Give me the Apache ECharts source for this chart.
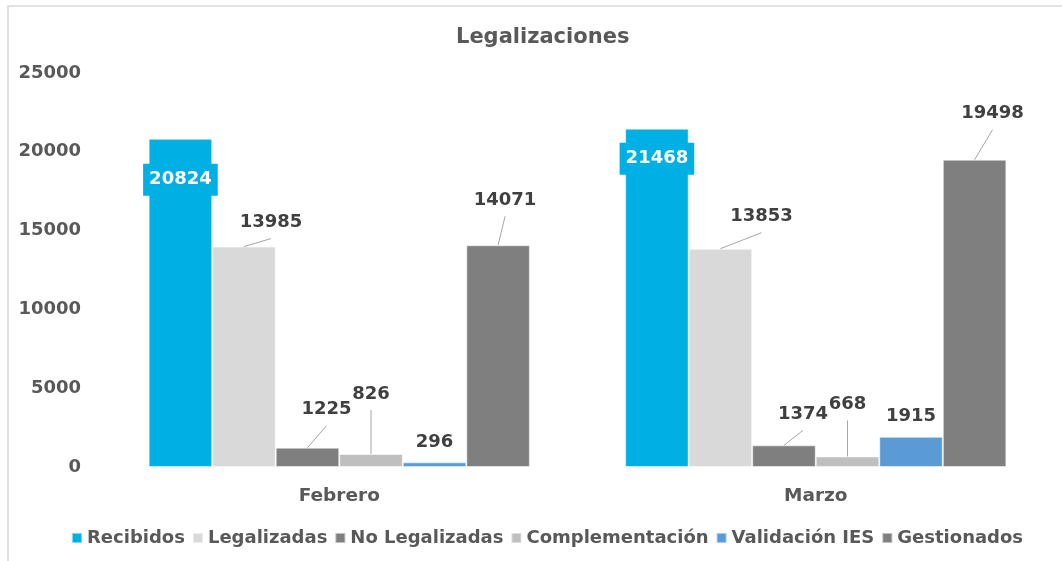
<!DOCTYPE html>
<html lang="es">
<head>
  <meta charset="UTF-8">
  <title>Legalizaciones</title>
  <style>
    html, body { margin: 0; padding: 0; background: #fff; }
    #chart { width: 1062px; height: 561px; }
  </style>
</head>
<body>
  <div id="chart"></div>
  <script src="https://cdn.jsdelivr.net/npm/echarts@6/dist/echarts.min.js"></script>
  <script>
    var categories = ['Febrero', 'Marzo'];
    var recibidos = [20824, 21468];
    var legalizadas = [13985, 13853];
    var noLegalizadas = [1225, 1374];
    var complementacion = [826, 668];
    var validacionIES = [296, 1915];
    var gestionados = [14071, 19498];
    var yTicks = [0, 5000, 10000, 15000, 20000, 25000];

    var font = 'DejaVu Sans';
    var textColor = '#595959';
    var barCount = 6;
    var catGap = 0.2;

    // label shifts (dx, dy) for each bar, from the default 'top' spot
    var shifts = {
      recibidos: [[0, 20], [0, 9]],
      legalizadas: [[27, -10], [41, -18]],
      noLegalizadas: [[19, -24], [19, -17]],
      complementacion: [[0, -46], [0, -38]],
      validacion: [[0, -6], [0, -6]],
      gestionados: [[7, -31], [18, -32]]
    };

    function layoutFor(key) {
      return function (params) {
        var s = shifts[key][params.dataIndex];
        return { dx: s[0], dy: s[1] };
      };
    }

    function barSeries(name, data, color, key) {
      return {
        name: name,
        type: 'bar',
        data: data,
        barGap: '0%',
        barCategoryGap: (catGap * 100) + '%',
        itemStyle: { color: color, borderColor: 'rgba(255,255,255,0.5)', borderWidth: 1 },
        label: {
          show: true,
          position: 'top',
          distance: 5,
          fontFamily: font,
          fontWeight: 'bold',
          fontSize: 18,
          color: '#404040'
        },
        labelLayout: layoutFor(key),
        emphasis: { disabled: true }
      };
    }

    var series = [
      {
        name: 'Recibidos',
        type: 'bar',
        data: recibidos,
        barGap: '0%',
        barCategoryGap: (catGap * 100) + '%',
        itemStyle: { color: '#00B0E4', borderColor: 'rgba(255,255,255,0.5)', borderWidth: 1 },
        label: {
          show: true,
          position: 'insideTop',
          distance: 5,
          fontFamily: font,
          fontWeight: 'bold',
          fontSize: 18,
          color: '#fff',
          backgroundColor: '#00B0E4',
          padding: [7, 6]
        },
        labelLayout: layoutFor('recibidos'),
        emphasis: { disabled: true }
      },
      barSeries('Legalizadas', legalizadas, '#D9D9D9', 'legalizadas'),
      barSeries('No Legalizadas', noLegalizadas, '#7F7F7F', 'noLegalizadas'),
      barSeries('Complementación', complementacion, '#BFBFBF', 'complementacion'),
      barSeries('Validación IES', validacionIES, '#5B9BD5', 'validacion'),
      barSeries('Gestionados', gestionados, '#7F7F7F', 'gestionados')
    ];

    // leader lines from moved labels back to their bars
    var lineKeys = [
      ['legalizadas', legalizadas, 1],
      ['noLegalizadas', noLegalizadas, 2],
      ['complementacion', complementacion, 3],
      ['gestionados', gestionados, 5]
    ];
    var lineData = [];
    lineKeys.forEach(function (k, ki) {
      k[1].forEach(function (v, ci) {
        lineData.push([ci, v, k[2], ki]);
      });
    });

    series.push({
      type: 'custom',
      silent: true,
      z: 5,
      data: lineData,
      encode: { x: 0, y: 1 },
      renderItem: function (params, api) {
        var ci = api.value(0);
        var top = api.coord([ci, api.value(1)]);
        var bandW = api.size([1, 0])[0];
        var barW = bandW * (1 - catGap) / barCount;
        var x = top[0] - bandW * (1 - catGap) / 2 + (api.value(2) + 0.5) * barW;
        var y = top[1];
        var s = shifts[lineKeys[api.value(3)][0]][ci];
        return {
          type: 'line',
          shape: { x1: x + s[0], y1: y + s[1] + 2, x2: x, y2: y },
          style: { stroke: '#A6A6A6', lineWidth: 1 }
        };
      }
    });

    var chart = echarts.init(document.getElementById('chart'));
    chart.setOption({
      animation: false,
      title: {
        text: 'Legalizaciones',
        left: 451,
        top: 22,
        textStyle: { fontFamily: font, fontWeight: 'bold', fontSize: 21, color: textColor }
      },
      graphic: [{
        type: 'rect',
        shape: { x: 8, y: 6, width: 1200, height: 700 },
        style: { fill: 'none', stroke: '#D9D9D9', lineWidth: 1.5 },
        silent: true
      }],
      legend: {
        left: 66,
        top: 524,
        itemWidth: 10,
        itemHeight: 10,
        itemGap: 7,
        icon: 'rect',
        textStyle: { fontFamily: font, fontWeight: 'bold', fontSize: 18, color: textColor },
        data: ['Recibidos', 'Legalizadas', 'No Legalizadas', 'Complementación', 'Validación IES', 'Gestionados']
      },
      grid: { left: 101, right: 8, top: 73, bottom: 94 },
      xAxis: {
        type: 'category',
        data: categories,
        axisLine: { show: false },
        axisTick: { show: false },
        axisLabel: { fontFamily: font, fontWeight: 'bold', fontSize: 18.5, color: textColor, margin: 20 }
      },
      yAxis: {
        type: 'value',
        min: yTicks[0],
        max: yTicks[yTicks.length - 1],
        interval: yTicks[1] - yTicks[0],
        splitLine: { show: false },
        axisLine: { show: false },
        axisTick: { show: false },
        axisLabel: {
          fontFamily: font, fontWeight: 'bold', fontSize: 18, color: textColor, margin: 20,
          formatter: function (v) { return String(v); }
        }
      },
      series: series
    });
  </script>
</body>
</html>
